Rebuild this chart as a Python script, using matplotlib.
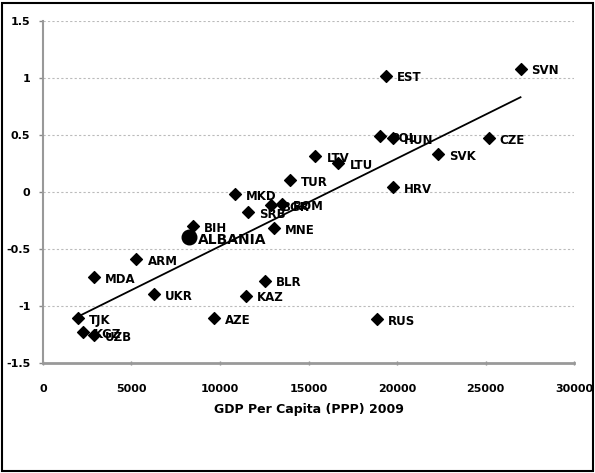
"""
GDP per capita vs index, transition countries
"""

import numpy as np
import matplotlib.pyplot as plt
from matplotlib.patches import Rectangle

plt.rcParams['font.family'] = ['Liberation Sans Narrow', 'DejaVu Sans']

countries = ['SVN', 'EST', 'POL', 'HUN', 'CZE', 'SVK', 'LTV', 'LTU', 'TUR', 'HRV',
             'MKD', 'SRB', 'BGR', 'ROM', 'MNE', 'BIH', 'ALBANIA', 'ARM', 'MDA', 'UKR',
             'BLR', 'KAZ', 'AZE', 'RUS', 'TJK', 'KGZ', 'UZB']
gdp = [26970, 19380, 19040, 19780, 25170, 22300, 15390, 16690, 13930, 19780,
       10840, 11570, 12870, 13480, 13030, 8480, 8260, 5280, 2870, 6290,
       12530, 11460, 9660, 18880, 1970, 2250, 2870]
score = [1.08, 1.02, 0.49, 0.47, 0.47, 0.33, 0.31, 0.25, 0.10, 0.04,
         -0.02, -0.18, -0.12, -0.11, -0.32, -0.30, -0.40, -0.59, -0.75, -0.90,
         -0.78, -0.91, -1.11, -1.12, -1.11, -1.23, -1.26]

xticks = [0, 5000, 10000, 15000, 20000, 25000, 30000]
yticks = [-1.5, -1, -0.5, 0, 0.5, 1, 1.5]
ytick_labels = ['-1.5', '-1', '-0.5', '0', '0.5', '1', '1.5']

fig = plt.figure(figsize=(5.95, 4.73), dpi=100)
ax = fig.add_axes([0.072, 0.233, 0.893, 0.723])

gdp_arr = np.array(gdp)
score_arr = np.array(score)

# trend line (least squares)
m, b = np.polyfit(gdp_arr, score_arr, 1)
xl = np.array([gdp_arr.min(), gdp_arr.max()])
ax.plot(xl, m * xl + b, color='black', lw=1.3, zorder=2)

for c, x, y in zip(countries, gdp, score):
    if c == 'ALBANIA':
        ax.scatter(x, y, marker='o', s=110, color='black', zorder=3)
        ax.annotate(c, (x, y), xytext=(6, -2), textcoords='offset points',
                    fontsize=10, fontweight='bold', va='center')
    else:
        ax.scatter(x, y, marker='D', s=36, color='black', zorder=3)
        ax.annotate(c, (x, y), xytext=(8, -1.5), textcoords='offset points',
                    fontsize=8.5, fontweight='bold', va='center')

ax.set_xlim(0, 30000)
ax.set_ylim(-1.5, 1.5)
ax.set_xticks(xticks)
ax.set_yticks(yticks)
ax.set_yticklabels(ytick_labels)
ax.tick_params(axis='both', labelsize=8, colors='#888888', labelcolor='black',
               length=3, width=1)
ax.tick_params(axis='x', direction='inout', pad=14)
ax.tick_params(axis='y', pad=6)
for lab in ax.get_xticklabels() + ax.get_yticklabels():
    lab.set_fontweight('bold')

for y in yticks[1:]:
    ax.axhline(y, color='#bbbbbb', lw=0.8, ls=(0, (2, 2)), zorder=1)

for s in ['top', 'right']:
    ax.spines[s].set_visible(False)
ax.spines['left'].set_color('#999999')
ax.spines['left'].set_linewidth(1.5)
ax.spines['bottom'].set_color('#999999')
ax.spines['bottom'].set_linewidth(2)

ax.set_xlabel('GDP Per Capita (PPP) 2009', fontsize=9, fontweight='bold',
              labelpad=6)

fig.patches.append(Rectangle((0.004, 0.004), 0.992, 0.99, transform=fig.transFigure,
                             fill=False, edgecolor='black', lw=1.5))

plt.savefig('out.png', dpi=100)
